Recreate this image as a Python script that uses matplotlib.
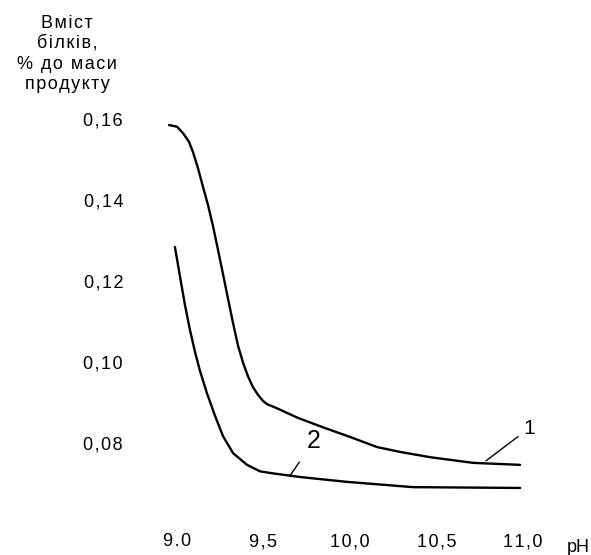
"""Protein content vs pH, two curves, drawn in the style of an old scanned figure."""
import matplotlib
matplotlib.use("Agg")
import matplotlib.pyplot as plt

plt.rcParams["font.family"] = ["Liberation Sans", "DejaVu Sans"]

# curve 1 (upper) and curve 2 (lower)
ph_1 = [8.954, 9.000, 9.035, 9.069, 9.092, 9.121, 9.150, 9.179, 9.208, 9.237,
        9.266, 9.295, 9.324, 9.353, 9.382, 9.410, 9.439, 9.468, 9.497, 9.520,
        9.566, 9.699, 9.855, 10.000, 10.156, 10.289, 10.462, 10.711, 10.983]
prot_1 = [0.1585, 0.1581, 0.1565, 0.1544, 0.1519, 0.1479, 0.1433, 0.1388, 0.1336, 0.1277,
          0.1217, 0.1156, 0.1096, 0.1040, 0.0998, 0.0965, 0.0938, 0.0919, 0.0904, 0.0896,
          0.0888, 0.0862, 0.0837, 0.0815, 0.0790, 0.0778, 0.0765, 0.0751, 0.0746]
ph_2 = [8.988, 9.017, 9.046, 9.075, 9.104, 9.133, 9.173, 9.220, 9.266, 9.324,
        9.405, 9.480, 9.555, 9.711, 9.983, 10.364, 10.983]
prot_2 = [0.1284, 0.1212, 0.1141, 0.1079, 0.1025, 0.0978, 0.0923, 0.0867, 0.0817, 0.0775,
          0.0746, 0.0730, 0.0725, 0.0716, 0.0704, 0.0691, 0.0689]

x_ticks = [9.0, 9.5, 10.0, 10.5, 11.0]
x_labels = ["9.0", "9,5", "10,0", "10,5", "11,0"]
y_ticks = [0.08, 0.10, 0.12, 0.14, 0.16]
y_labels = ["0,08", "0,10", "0,12", "0,14", "0,16"]
title_lines = ["Вміст", "білків,", "% до маси", "продукту"]


def track(s):
    # the scan has loose letter spacing, fake it with hair spaces
    return "\u200a".join(s)


W, H = 591, 555
fig = plt.figure(figsize=(W / 100, H / 100), dpi=100)
ax = fig.add_axes([0.2702, 0.05586, 0.6733, 0.8027])
ax.set_xlim(8.9, 11.2)
ax.set_ylim(0.06, 0.17)
for s in ax.spines.values():
    s.set_visible(False)

for xs, ys in [(ph_1, prot_1), (ph_2, prot_2)]:
    ax.plot(xs, ys, color="black", lw=1.7, solid_capstyle="round", solid_joinstyle="round")

ax.set_xticks(x_ticks, [track(t) for t in x_labels])
ax.set_yticks(y_ticks, [track(t) for t in y_labels])
ax.tick_params(axis="x", length=0, pad=6.5, labelsize=13)
ax.tick_params(axis="y", length=0, pad=26.4, labelsize=13)

# curve numbers with leader lines
ax.annotate("1", xy=(10.786, 0.0756), xytext=(11.0, 0.0836),
            fontsize=15, ha="left", va="center",
            arrowprops=dict(arrowstyle="-", color="black", lw=1.0, shrinkA=2, shrinkB=0))
ax.annotate("2", xy=(9.653, 0.0719), xytext=(9.79, 0.0805),
            fontsize=18, ha="center", va="center",
            arrowprops=dict(arrowstyle="-", color="black", lw=1.0, shrinkA=6, shrinkB=0))

fig.text(567 / W, 1 - 552 / H, "pH", fontsize=13, va="baseline", ha="left")
for line, base in zip(title_lines, [28, 48, 69, 89]):
    fig.text(67 / W, 1 - base / H, track(line), fontsize=13, ha="center", va="baseline")

fig.savefig("out.png", dpi=100)
